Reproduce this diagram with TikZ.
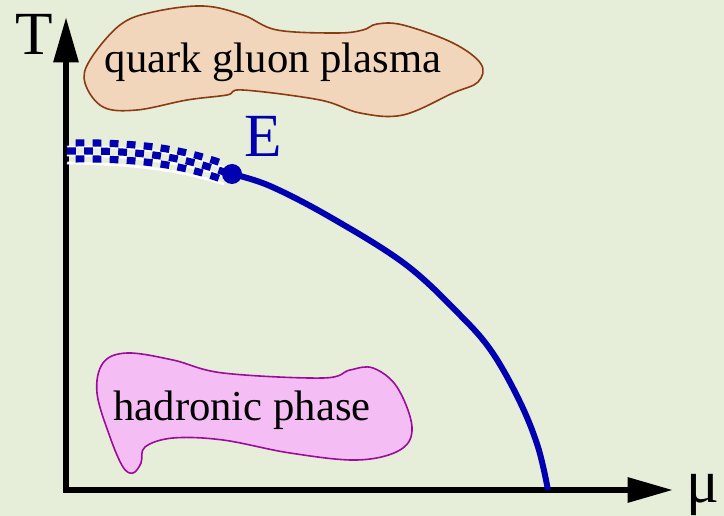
\documentclass[tikz,border=0pt]{standalone}
\usepackage{fontspec}
\setmainfont{Liberation Serif}
\usetikzlibrary{arrows.meta}
\definecolor{bgcol}{HTML}{E6EED9}
\definecolor{qgpfill}{HTML}{F1D6BC}
\definecolor{qgpline}{HTML}{8B3A12}
\definecolor{hadfill}{HTML}{F4BEF4}
\definecolor{hadline}{HTML}{9B0C9B}
\definecolor{lineblue}{HTML}{0000B0}
\begin{document}
\begin{tikzpicture}[
  x=0.75pt, y=-0.75pt,
  axis/.style={line width=4.5pt, -{Triangle[length=34pt,width=18pt]}},
  axislabel/.style={font=\fontsize{46}{50}\selectfont, anchor=base, inner sep=0pt},
  phaselabel/.style={font=\fontsize{32}{36}\selectfont, inner sep=0pt},
  transition/.style={line width=4.5pt, lineblue},
  crossrow/.style={line width=5.4pt, lineblue, dash pattern=on 6.6pt off 6.2pt},
  crossgap/.style={line width=2pt, white},
]
% Background
\fill[bgcol] (0,0) rectangle (724,516);
\useasboundingbox (0,0) rectangle (724,516);

% Blobs
\draw[qgpline, fill=qgpfill, line width=1.2pt] plot[smooth cycle, tension=0.6] coordinates {
  (120,25) (153,12) (203,6) (243,15) (277,30) (337,33) (363,30) (377,24) (403,25)
  (453,43) (481,64) (478,82) (453,93) (403,115) (360,113) (320,100) (243,90)
  (227,95) (187,100) (137,110) (103,107) (85,83) (90,60)};
\draw[hadline, fill=hadfill, line width=1.2pt] plot[smooth cycle, tension=0.6] coordinates {
  (103,363) (127,353) (173,360) (223,373) (323,378) (350,370) (373,368) (397,387)
  (412,427) (400,450) (357,460) (290,453) (223,440) (173,438) (145,447) (141,463)
  (133,473) (123,467) (110,437) (97,393)};
\node[phaselabel] (qgp) at (273,62) {quark gluon plasma};
\node[phaselabel] (hadron) at (242,410) {hadronic phase};

% Axes
\coordinate (origin) at (66,490);
\coordinate (Ttip) at (66,17);
\coordinate (mutip) at (673,490);
\draw[axis] (origin) -- (Ttip);
\draw[axis] ([xshift=-2.25pt]origin) -- (mutip);
\node[axislabel] (Tlabel) at (34,55) {T};
\node[axislabel] (mulabel) at (703,502) {μ};

% Crossover (checkered band)
\coordinate (crossL) at (67,151);
\coordinate (crossR) at (224,172);
\draw[crossgap] ([yshift=3pt]crossL) .. controls (135,146) and (180,152) .. ([yshift=3pt]crossR);
\draw[crossgap] ([yshift=-3pt]crossL) .. controls (135,156) and (180,162) .. ([yshift=-3pt]crossR);
\draw[crossgap] ([yshift=-9pt]crossL) .. controls (135,164) and (180,170) .. ([yshift=-9pt]crossR);
\draw[crossrow, dash phase=6.4pt] ([yshift=6pt]crossL) .. controls (135,142) and (180,148) .. ([yshift=6pt]crossR);
\draw[crossrow] (crossL) .. controls (135,150) and (180,156) .. (crossR);
\draw[crossrow, dash phase=6.4pt] ([yshift=-6pt]crossL) .. controls (135,158) and (180,164) .. ([yshift=-6pt]crossR);

% Critical end point and first order line
\node[circle, fill=lineblue, inner sep=0pt, minimum size=15pt] (E) at (232,174) {};
\node[axislabel, text=lineblue] (Elabel) at (263,157) {E};
\coordinate (muc) at (548,490);
\draw[transition] plot[smooth, tension=0.6] coordinates {
  (232,174) (270,186) (330,217) (405,264) (460,315) (492,352) (520,402) (538,447) (548,490)};
\end{tikzpicture}
\end{document}
